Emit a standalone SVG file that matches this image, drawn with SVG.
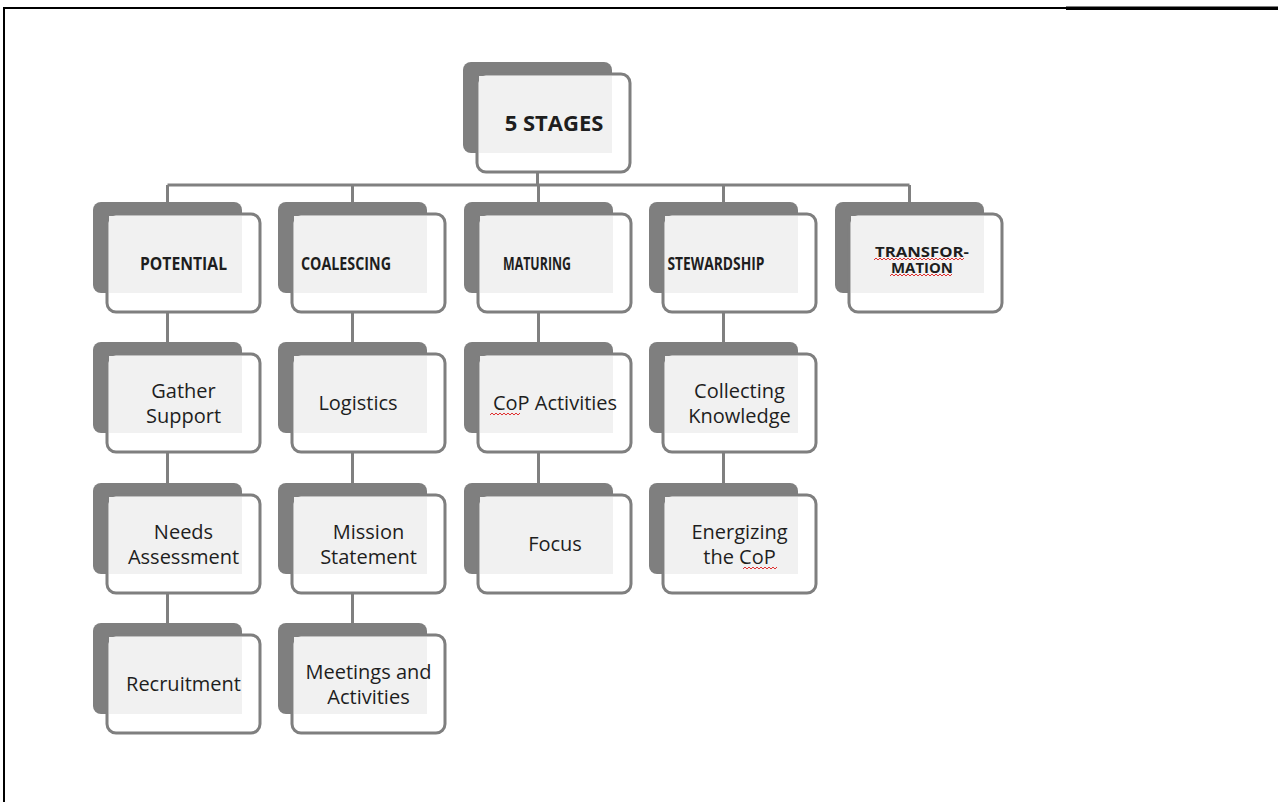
<svg xmlns="http://www.w3.org/2000/svg" width="1278" height="802" viewBox="0 0 1278 802">
<defs>
<style>
.sh{fill:#7f7f7f}
.fr{fill:#ffffff;stroke:#7f7f7f;stroke-width:3}
.lt{fill:#f1f1f1}
.conn{stroke:#808080;stroke-width:3;fill:none}
.t{font-family:"Open Sans","Liberation Sans",sans-serif;font-size:20px;fill:#1e1e1e;text-anchor:middle}
.b{font-family:"Open Sans","Liberation Sans",sans-serif;font-size:17.5px;font-weight:bold;fill:#1e1e1e;text-anchor:middle}
.b2{font-family:"Open Sans","Liberation Sans",sans-serif;font-size:13.5px;font-weight:bold;fill:#1e1e1e;text-anchor:middle}
.sq{stroke:#e03030;stroke-width:1;fill:none}
</style>
<g id="card">
<rect class="sh" x="0" y="0" width="149" height="91" rx="8"/>
<rect class="fr" x="14" y="12" width="153" height="98" rx="9"/>
<rect class="lt" x="16" y="14" width="133" height="77"/>
</g>
</defs>
<rect x="0" y="0" width="1278" height="802" fill="#ffffff"/>
<rect x="3" y="7" width="1063" height="2" fill="#000"/>
<rect x="1066" y="6.5" width="212" height="3.5" fill="#000"/>
<rect x="3" y="7" width="2" height="795" fill="#000"/>
<g id="connectors">
<path class="conn" d="M537.5 160V185M167.5 185H909.5M167.5 185V623M352.5 185V623M538.5 185V483M723.5 185V483M909.5 185V202"/>
</g>
<g id="root"><use href="#card" x="463" y="62"/><text class="b" style="font-size:22px" x="554" y="131">5 STAGES</text></g>
<g id="potential"><use href="#card" x="93" y="202"/><text class="b" x="183.5" y="270" textLength="87" lengthAdjust="spacingAndGlyphs">POTENTIAL</text></g>
<g id="coalescing"><use href="#card" x="278" y="202"/><text class="b" x="346" y="270" textLength="90" lengthAdjust="spacingAndGlyphs">COALESCING</text></g>
<g id="maturing"><use href="#card" x="464" y="202"/><text class="b" x="537" y="270" textLength="68" lengthAdjust="spacingAndGlyphs">MATURING</text></g>
<g id="stewardship"><use href="#card" x="649" y="202"/><text class="b" x="716" y="270" textLength="97" lengthAdjust="spacingAndGlyphs">STEWARDSHIP</text></g>
<g id="transformation"><use href="#card" x="835" y="202"/><text class="b2" x="922" y="257" textLength="94" lengthAdjust="spacingAndGlyphs">TRANSFOR-</text><text class="b2" x="922" y="273" textLength="62" lengthAdjust="spacingAndGlyphs">MATION</text>
<path class="sq" d="M874 260l2-2 2 2 2-2 2 2 2-2 2 2 2-2 2 2 2-2 2 2 2-2 2 2 2-2 2 2 2-2 2 2 2-2 2 2 2-2 2 2 2-2 2 2 2-2 2 2 2-2 2 2 2-2 2 2 2-2 2 2 2-2 2 2 2-2 2 2 2-2 2 2 2-2 2 2 2-2 2 2 2-2 2 2 2-2 2 2 2-2"/>
<path class="sq" d="M890 276l2-2 2 2 2-2 2 2 2-2 2 2 2-2 2 2 2-2 2 2 2-2 2 2 2-2 2 2 2-2 2 2 2-2 2 2 2-2 2 2 2-2 2 2 2-2 2 2 2-2 2 2 2-2 2 2 2-2 2 2 2-2"/></g>
<g id="gather-support"><use href="#card" x="93" y="342"/><text class="t" x="183.5" y="398">Gather</text><text class="t" x="183.5" y="423">Support</text></g>
<g id="needs-assessment"><use href="#card" x="93" y="483"/><text class="t" x="183.5" y="539">Needs</text><text class="t" x="183.5" y="564">Assessment</text></g>
<g id="recruitment"><use href="#card" x="93" y="623"/><text class="t" x="183.5" y="691">Recruitment</text></g>
<g id="logistics"><use href="#card" x="278" y="342"/><text class="t" x="358" y="410">Logistics</text></g>
<g id="mission-statement"><use href="#card" x="278" y="483"/><text class="t" x="368.5" y="539">Mission</text><text class="t" x="368.5" y="564">Statement</text></g>
<g id="meetings-activities"><use href="#card" x="278" y="623"/><text class="t" x="368.5" y="679">Meetings and</text><text class="t" x="368.5" y="704">Activities</text></g>
<g id="cop-activities"><use href="#card" x="464" y="342"/><text class="t" x="555" y="410">CoP Activities</text>
<path class="sq" d="M490 415l2-2 2 2 2-2 2 2 2-2 2 2 2-2 2 2 2-2 2 2 2-2 2 2 2-2 2 2 2-2"/></g>
<g id="focus"><use href="#card" x="464" y="483"/><text class="t" x="555" y="551">Focus</text></g>
<g id="collecting-knowledge"><use href="#card" x="649" y="342"/><text class="t" x="739.5" y="398">Collecting</text><text class="t" x="739.5" y="423">Knowledge</text></g>
<g id="energizing"><use href="#card" x="649" y="483"/><text class="t" x="739.5" y="539">Energizing</text><text class="t" x="739.5" y="564">the CoP</text>
<path class="sq" d="M743 569l2-2 2 2 2-2 2 2 2-2 2 2 2-2 2 2 2-2 2 2 2-2 2 2 2-2 2 2 2-2 2 2 2-2"/></g>
</svg>
